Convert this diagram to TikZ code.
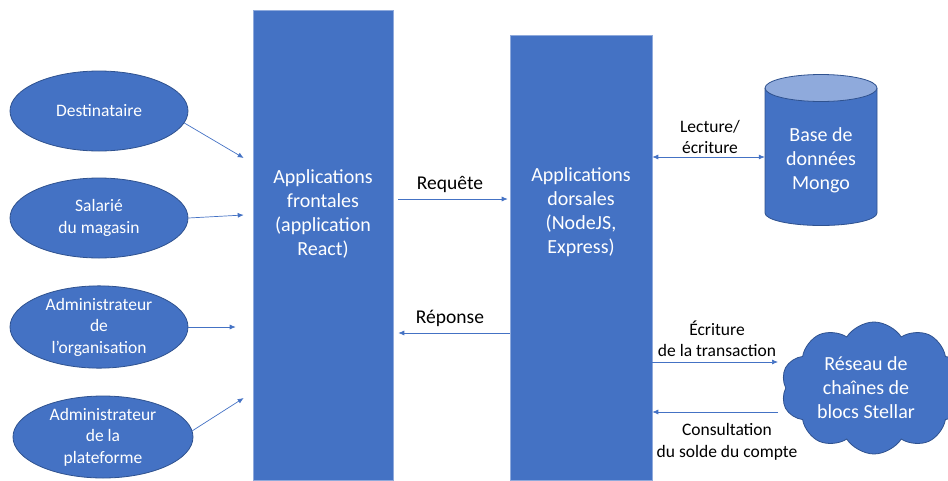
\documentclass[tikz,border=0pt]{standalone}
\usepackage{fontspec}
\setmainfont{Carlito}
\usetikzlibrary{calc}
\usetikzlibrary{shapes.geometric,shapes.symbols,arrows.meta}
\definecolor{cus-blue}{RGB}{68, 114, 196}
\definecolor{cus-blue1}{RGB}{47, 82, 143}
\definecolor{cus-blue2}{RGB}{143, 170, 220}

\tikzset{
	bigbox/.style={rectangle, fill=cus-blue, draw=cus-blue2, line width=0.6pt, inner sep=0pt},
	actor/.style={ellipse, fill=cus-blue, draw=cus-blue1, line width=0.8pt, inner sep=0pt,
		minimum width=178pt, minimum height=80pt, text=white, align=center,
		font=\fontsize{17.5}{21.5}\selectfont},
	boxtext/.style={text=white, align=center, font=\fontsize{20}{24}\selectfont},
	flowlabel/.style={text=black, align=center, font=\fontsize{17.5}{21.5}\selectfont},
	flow/.style={draw=cus-blue, line width=0.7pt, -{Latex[length=6pt,width=5pt]}}
}

\begin{document}
\begin{tikzpicture}[x=1pt,y=-1pt]
\useasboundingbox (0,0) rectangle (948,480);

% users
\node [actor] (dest) at (99,111) {Destinataire};
\node [actor] (sal) at (99,218) {Salarié\\du magasin};
\node [actor] (adorg) at (99,327) {Administrateur\\de\\l’organisation};
\node [actor, minimum width=180pt, minimum height=82pt] (adplat) at (103,437) {Administrateur\\de la\\plateforme};

% front and back
\node [bigbox, minimum width=140pt, minimum height=470pt] (front) at (323,245.5) {};
\node [boxtext] (fronttxt) at ([yshift=32pt]front.center) {Applications\\frontales\\(application\\React)};
\node [bigbox, minimum width=142pt, minimum height=445pt] (back) at (581,257.5) {};
\node [boxtext] (backtxt) at ([yshift=45pt]back.center) {Applications\\dorsales\\(NodeJS,\\Express)};

% database
\fill [cus-blue, draw=cus-blue1, line width=0.8pt] (765,88) -- (765,213) arc [start angle=180, end angle=0, x radius=56, y radius=12.5] -- (877,88);
\draw [fill=cus-blue2, draw=cus-blue1, line width=0.8pt] (821,88) ellipse [x radius=56, y radius=13.5];
\node [boxtext, minimum width=112pt, minimum height=125pt] (mongo) at (821,160) {Base de\\données\\Mongo};

% blockchain
\node [cloud, cloud puffs=10, cloud puff arc=115, aspect=1.5, fill=cus-blue, draw=cus-blue1, line width=0.8pt,
	minimum width=186pt, minimum height=132pt, inner sep=0pt, boxtext] (stellar) at (874,388) {};
\node [boxtext] (stellartxt) at (866,388) {Réseau de\\chaînes de\\blocs Stellar};

% arrows to the front
\draw [flow] (dest.-8) -- ([xshift=-9pt,yshift=87.5pt]front.west);
\draw [flow] (sal.east) -- ([xshift=-9pt,yshift=30.5pt]front.west);
\draw [flow] (adorg.east) -- ([xshift=-17pt,yshift=-81.5pt]front.west);
\draw [flow] (adplat.4) -- ([xshift=-9pt,yshift=-152.5pt]front.west);

% request / response
\draw [flow, shorten <=5pt, shorten >=2pt] ([yshift=46.5pt]front.east) -- ([yshift=46.5pt]front.east -| back.west);
\node [flowlabel, font=\fontsize{19.5}{23}\selectfont] (req) at (450,184) {Requête};
\draw [flow, shorten >=5pt] ([yshift=-87.5pt]front.east -| back.west) -- ([yshift=-87.5pt]front.east);
\node [flowlabel, font=\fontsize{19.5}{23}\selectfont] (rep) at (450,318) {Réponse};

% back to database and blockchain
\draw [flow, {Latex[length=6pt,width=5pt]}-{Latex[length=6pt,width=5pt]}] ([yshift=100.5pt]back.east) -- ([yshift=100.5pt]back.east -| mongo.west);
\node [flowlabel] (rw) at (710,137) {Lecture/\\écriture};
\draw [flow] ([yshift=-104.5pt]back.east) -- ([xshift=778pt,yshift=-104.5pt]back.east -| 0,0);
\node [flowlabel] (ecr) at (717,339) {Écriture\\de la transaction};
\draw [flow] ([xshift=778pt,yshift=-154.5pt]back.east -| 0,0) -- ([yshift=-154.5pt]back.east);
\node [flowlabel] (cons) at (727,442) {Consultation\\du solde du compte};
\end{tikzpicture}
\end{document}
